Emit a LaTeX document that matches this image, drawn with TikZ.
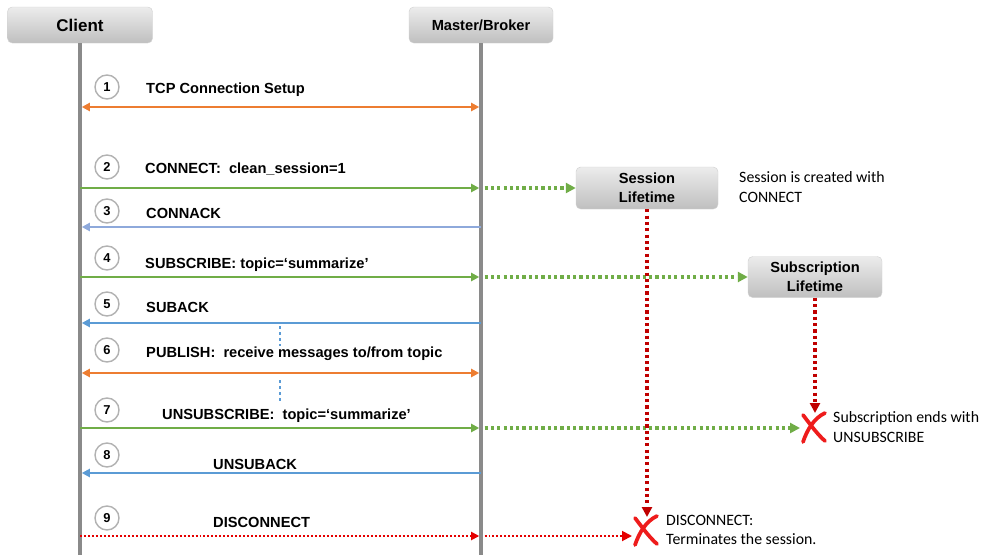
\documentclass[tikz,border=0pt]{standalone}
\usepackage{fontspec}
\setmainfont{Liberation Sans}
\newfontfamily\notefont{Carlito}
\usepackage{tikz}
\usetikzlibrary{arrows.meta}

\definecolor{lifegray}{HTML}{8A8A8A}
\definecolor{msgorange}{HTML}{ED7D31}
\definecolor{msggreen}{HTML}{70AD47}
\definecolor{msgblue}{HTML}{5B9BD5}
\definecolor{msglilac}{HTML}{8EA9DB}
\definecolor{lifered}{HTML}{C00000}
\definecolor{crossred}{HTML}{EE1C1C}

\tikzset{
	endcross/.pic={
		\draw [crossred, line width=3.2pt, line cap=round]
			(-10,-13) .. controls (-3,-4) and (4,6) .. (12,13);
		\draw [crossred, line width=3.2pt, line cap=round]
			(12,-15) .. controls (1,-10) and (-6,2) .. (-10,14);
	}
}

\begin{document}
\begin{tikzpicture}[x=0.03cm, y=-0.03cm]
	\useasboundingbox (0,0) rectangle (983,555);
	\begin{scope}[every node/.style = {rounded corners=4pt, draw=gray!35,
			top color=gray!15, bottom color=gray!50, inner sep=0pt,
			font = \fontsize{12.5}{16}\selectfont\bfseries}]
		\node [minimum width=4.35cm, minimum height=1.08cm,
			font=\fontsize{14.5}{16}\selectfont\bfseries] (client) at (80,25) {Client};
		\node [minimum width=4.32cm, minimum height=1.08cm] (broker) at (481,25) {Master/Broker};
		\node [minimum width=4.26cm, minimum height=1.26cm, align=center] (session) at (647,188) {Session\\Lifetime};
		\node [minimum width=4.02cm, minimum height=1.23cm, align=center] (subscr) at (815,277) {Subscription\\Lifetime};
	\end{scope}

	% lifelines
	\coordinate (clientend) at (80,555);
	\coordinate (brokerend) at (481,555);
	\draw [lifegray, line width=2.9pt] (client) -- (clientend);
	\draw [lifegray, line width=2.9pt] (broker) -- (brokerend);

	\foreach \i/\y in {1/107, 2/188, 3/227, 4/277, 5/323, 6/373, 7/428, 8/473, 9/536} {
		\coordinate (c\i) at (80,\y);
		\coordinate (b\i) at (481,\y);
	}

	\begin{scope}[every node/.style = {circle, draw=gray!60, line width=1.2pt, fill=white,
			minimum size=0.72cm, inner sep=0pt, font = \fontsize{11}{12}\selectfont\bfseries}]
		\node (n1) at (107,87) {1};
		\node (n2) at (107,167) {2};
		\node (n3) at (107,211) {3};
		\node (n4) at (107,258) {4};
		\node (n5) at (107,304) {5};
		\node (n6) at (107,350) {6};
		\node (n7) at (107,410) {7};
		\node (n8) at (107,455) {8};
		\node (n9) at (107,518) {9};
	\end{scope}

	\begin{scope}[every node/.style = {anchor=base west, inner sep=0pt,
			font = \fontsize{12.5}{14}\selectfont\bfseries}]
		\node (l1) at (146,93) {TCP Connection Setup};
		\node (l2) at (145,173) {CONNECT:\ \ clean\_session=1};
		\node (l3) at (146,218) {CONNACK};
		\node (l4) at (145,268) {SUBSCRIBE: topic=‘summarize’};
		\node (l5) at (146,312) {SUBACK};
		\node (l6) at (146,357) {PUBLISH:\ \ receive messages to/from topic};
		\node (l7) at (162,419) {UNSUBSCRIBE:\ \ topic=‘summarize’};
		\node (l8) at (213,469) {UNSUBACK};
		\node (l9) at (213,527) {DISCONNECT};
	\end{scope}

	\begin{scope}[every node/.style = {anchor=west, inner sep=0pt, align=left,
			font = \notefont\fontsize{13.5}{16.5}\selectfont}]
		\node (sessnote) at (739,187) {Session is created with\\CONNECT};
		\node (subnote) at (833,427) {Subscription ends with\\UNSUBSCRIBE};
		\node (discnote) at (666,530) {DISCONNECT:\\Terminates the session.};
	\end{scope}

	\pic at (813,428) {endcross};
	\pic at (645,531) {endcross};
	\coordinate (subend) at (800,428);
	\coordinate (subtop) at (815,413);
	\coordinate (sessend) at (632,536);
	\coordinate (sesstop) at (647,517);

	\begin{scope}[>={Triangle[length=7pt, width=7pt]},
			every edge/.style={draw, line width=1.8pt}]
		\path [<->] (c1) edge [msgorange, shorten <=1.5pt, shorten >=1.5pt] (b1);
		\path [->] (c2) edge [msggreen, shorten >=1.5pt] (b2);
		\path [->] (b3) edge [msglilac, shorten >=1.5pt] (c3);
		\path [->] (c4) edge [msggreen, shorten >=1.5pt] (b4);
		\path [->] (b5) edge [msgblue, shorten >=1.5pt] (c5);
		\path [<->] (c6) edge [msgorange, shorten <=1.5pt, shorten >=1.5pt] (b6);
		\path [->] (c7) edge [msggreen, shorten >=1.5pt] (b7);
		\path [->] (b8) edge [msgblue, shorten >=1.5pt] (c8);
		\path [->] (c9) edge [red!90!black, line width=1.6pt, dash pattern=on 1.7pt off 1.7pt, shorten >=1.5pt] (b9);
	\end{scope}

	\begin{scope}[>={Triangle[length=8.5pt, width=8.5pt]},
			every edge/.style={draw, line width=2.9pt, dash pattern=on 2.7pt off 2.7pt}]
		\path [->] (b2) edge [msggreen, shorten <=3pt] (session);
		\path [->] (b4) edge [msggreen, shorten <=3pt] (subscr);
		\path [->] (b7) edge [msggreen, shorten <=3pt] (subend);
		\path [->] (session) edge [lifered] (sesstop);
		\path [->] (subscr) edge [lifered] (subtop);
		\path [->] (b9) edge [red!90!black, line width=1.6pt, dash pattern=on 1.7pt off 1.7pt, shorten <=3pt] (sessend);
	\end{scope}

	% activity gap markers
	\coordinate (gapa) at (280,326);
	\coordinate (gapb) at (280,346);
	\coordinate (gapc) at (280,380);
	\coordinate (gapd) at (280,402);
	\draw [msgblue, line width=2.4pt, dash pattern=on 2.6pt off 2.6pt] (gapa) -- (gapb);
	\draw [msgblue, line width=2.4pt, dash pattern=on 2.6pt off 2.6pt] (gapc) -- (gapd);
\end{tikzpicture}
\end{document}
